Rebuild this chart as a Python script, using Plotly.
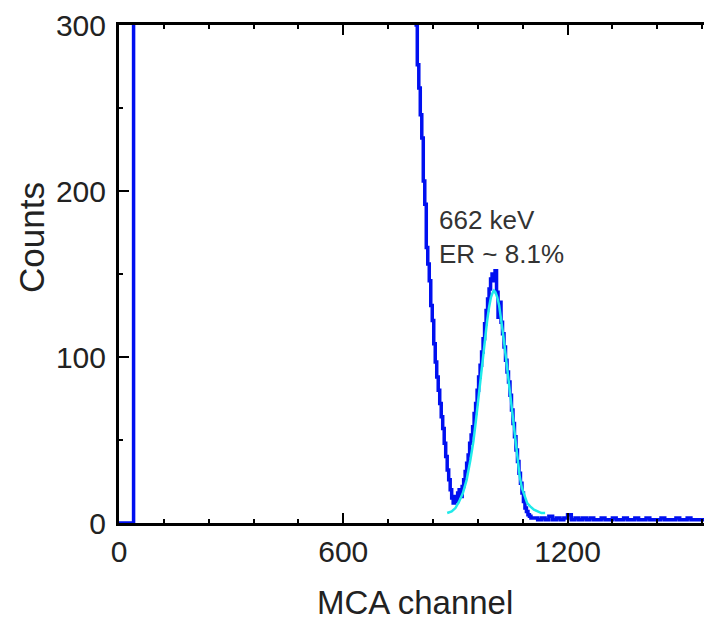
import plotly.graph_objects as go

# Measured Cs-137 pulse-height spectrum (MCA channel vs counts)
channel = [0, 20, 38, 39, 60, 100, 200, 300, 400, 500, 600, 700, 760, 788,
           795, 798, 802, 806, 810, 814, 818, 822, 826, 830, 834, 838, 842,
           846, 850, 854, 858, 862, 866, 870, 874, 878, 882, 886, 890, 894,
           898, 902, 906, 910, 914, 918, 922, 926, 930, 934, 938, 942, 946,
           950, 954, 958, 962, 966, 970, 974, 978, 982, 986, 990, 994, 998,
           1002, 1006, 1010, 1014, 1018, 1022, 1026, 1030, 1034, 1038, 1042,
           1046, 1050, 1054, 1058, 1062, 1066, 1070, 1074, 1078, 1082, 1086,
           1090, 1094, 1098, 1102, 1110, 1120, 1130, 1140, 1150, 1160, 1170,
           1180, 1190, 1200, 1210, 1220, 1230, 1240, 1250, 1260, 1270, 1280,
           1290, 1300, 1310, 1320, 1330, 1340, 1350, 1360, 1370, 1380, 1390,
           1400, 1410, 1420, 1430, 1440, 1450, 1460, 1470, 1480, 1490, 1500,
           1510, 1520, 1530, 1540, 1550, 1560, 1570]
counts = [0, 0, 0, 5200, 4100, 3000, 2200, 1600, 1200, 900, 700, 500, 380, 312,
          300, 276, 262, 246, 232, 206, 192, 166, 156, 146, 131, 122, 108,
          97, 88, 80, 72, 64, 57, 48, 40, 32, 26, 20, 15, 12,
          16, 13, 18, 20, 16, 22, 26, 31, 36, 41, 48, 53, 58,
          66, 72, 80, 88, 95, 103, 111, 120, 128, 135, 141, 147, 150,
          146, 152, 139, 124, 133, 121, 114, 106, 98, 91, 85,
          77, 68, 60, 52, 44, 37, 30, 24, 18, 13, 9,
          7, 5, 4, 3, 3, 2, 3, 2, 4, 2, 3,
          2, 3, 5, 2, 3, 2, 3, 2, 3, 2, 2,
          3, 2, 2, 3, 2, 2, 3, 2, 2, 3, 2,
          2, 3, 2, 2, 2, 3, 2, 2, 2, 3, 2,
          2, 3, 2, 2, 2, 2, 2]

# Gaussian fit of the 662 keV photopeak
fit_channel = [878, 890, 900, 910, 920, 930, 940, 948, 955, 962, 970, 978,
               985, 990, 995, 1000, 1003, 1007, 1012, 1017, 1022, 1028, 1035,
               1042, 1048, 1054, 1060, 1066, 1072, 1078, 1085, 1092, 1100,
               1110, 1120, 1130, 1140]
fit_counts = [6, 7, 9, 13, 18, 26, 38, 49, 62, 77, 92, 108,
              122, 130, 136, 139, 140, 139, 136, 131, 124, 113, 100,
              86, 74, 61, 48, 38, 28, 21, 16, 12, 10,
              8, 7, 6, 6]

x_ticks = [0, 600, 1200]
y_ticks = [0, 100, 200, 300]

FONT = "Liberation Sans, Arial, sans-serif"
W, H = 704, 623
L, R, T, B = 119, 0, 25, 100

fig = go.Figure()
fig.add_trace(go.Scatter(x=channel, y=counts, mode="lines", line_shape="hv",
                         line=dict(color="#0010f0", width=3.5),
                         showlegend=False, hoverinfo="skip"))
fig.add_trace(go.Scatter(x=fit_channel, y=fit_counts, mode="lines",
                         line=dict(color="#20eaea", width=2.5),
                         showlegend=False, hoverinfo="skip"))

tick_font = dict(family=FONT, size=30, color="#222222")

fig.update_layout(
    width=W, height=H,
    margin=dict(l=L, r=R, t=T, b=B),
    paper_bgcolor="white", plot_bgcolor="white",
    font=tick_font,
    xaxis=dict(range=[0, 1565], tickmode="array", tickvals=x_ticks,
               ticktext=[str(v) for v in x_ticks],
               ticks="inside", ticklen=10, tickwidth=2, tickcolor="black",
               showline=True, linecolor="black", linewidth=3, mirror="ticks",
               showgrid=False, zeroline=False, tickfont=tick_font,
               ticklabelstandoff=0,
               minor=dict(dtick=120, tick0=0, ticks="inside", ticklen=4,
                          tickwidth=2, tickcolor="black", showgrid=False)),
    yaxis=dict(range=[0, 300], tickmode="array", tickvals=y_ticks,
               ticktext=[str(v) for v in y_ticks],
               ticks="inside", ticklen=10, tickwidth=2, tickcolor="black",
               showline=True, linecolor="black", linewidth=3,
               showgrid=False, zeroline=False, tickfont=tick_font,
               ticklabelstandoff=4,
               minor=dict(dtick=50, tick0=0, ticks="inside", ticklen=4,
                          tickwidth=2, tickcolor="black", showgrid=False)),
    annotations=[
        dict(x=851, y=172, xref="x", yref="y", xanchor="left", yanchor="middle",
             text="662 keV<br>ER ~ 8.1%", showarrow=False, align="left",
             font=dict(family=FONT, size=26, color="#333333")),
        # y-axis title, placed in pixel terms relative to the plot area
        dict(x=(31 - L) / (W - L - R), y=(H - B - 238) / (H - T - B),
             xref="paper", yref="paper", text="Counts",
             showarrow=False, textangle=-90, xanchor="center", yanchor="middle",
             font=dict(family=FONT, size=35, color="#222222")),
        # x-axis title
        dict(x=(415 - L) / (W - L - R), y=(H - B - 602) / (H - T - B),
             xref="paper", yref="paper", text="MCA channel",
             showarrow=False, xanchor="center", yanchor="middle",
             font=dict(family=FONT, size=33, color="#222222")),
    ],
)

fig.write_html("out.html")
